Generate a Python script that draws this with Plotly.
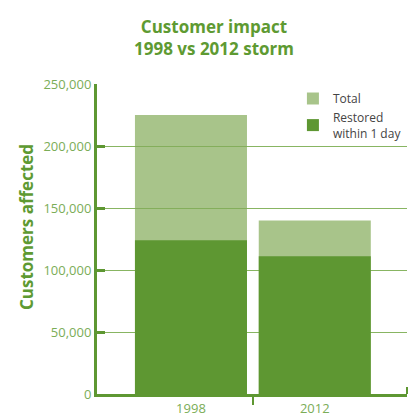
import plotly.graph_objects as go

years = ["1998", "2012"]
xpos = [0, 1]
total = [225000, 140000]
restored = [124000, 111000]
y_ticks = [0, 50000, 100000, 150000, 200000, 250000]
y_ticktext = ["0", "50,000", "100,000", "150,000", "200,000", "250,000"]

DARK = "#5E9732"
LIGHT_RGBA = "rgba(131,171,88,0.70)"
GRID = "#88B562"
LABEL = "#7BAD57"
FONT = "Open Sans"

fig = go.Figure()
fig.add_trace(go.Bar(
    x=xpos, y=total, name="Total", width=0.905,
    marker=dict(color=LIGHT_RGBA, line=dict(width=0)),
))
fig.add_trace(go.Bar(
    x=xpos, y=restored, name="Restored<br>within 1 day", width=0.905,
    marker=dict(color=DARK, line=dict(width=0)),
))

fig.update_layout(
    width=411, height=419,
    margin=dict(l=97, r=4, t=84, b=25, autoexpand=False),
    paper_bgcolor="white", plot_bgcolor="white",
    barmode="overlay",
    font=dict(family=FONT, color=LABEL, size=13),
    title=dict(
        text="<b>Customer impact<br>1998 vs 2012 storm</b>",
        x=214/411, xanchor="center", y=1 - 33/419, yanchor="middle",
        font=dict(family=FONT, size=17, color="#5E9A32"),
    ),
    showlegend=True,
    legend=dict(
        x=0.632, y=1.0, xanchor="left", yanchor="top",
        bgcolor="rgba(0,0,0,0)", font=dict(family=FONT, size=12, color="#444444"),
        traceorder="normal", itemwidth=30,
    ),
    xaxis=dict(
        range=[-0.759, 1.745],
        tickvals=xpos, ticktext=years, ticks="",
        showline=True, linecolor=DARK, linewidth=3,
        showgrid=False, zeroline=False,
        tickfont=dict(family=FONT, size=13, color=LABEL),
        minor=dict(tickvals=[0.5], ticks="outside", ticklen=8, tickwidth=2, tickcolor=DARK, showgrid=False),
    ),
    yaxis=dict(
        range=[0, 250000],
        tickvals=y_ticks, ticktext=y_ticktext,
        ticks="inside", ticklen=8, tickwidth=3, tickcolor=DARK,
        showline=True, linecolor=DARK, linewidth=3,
        showgrid=True, gridcolor=GRID, gridwidth=1,
        zeroline=False,
        tickfont=dict(family=FONT, size=13, color=LABEL),
    ),
    annotations=[dict(
        text="<b>Customers affected</b>", textangle=-90,
        xref="paper", yref="paper", x=-97/310 + 26/310, y=(394-227)/310,
        xanchor="center", yanchor="middle", showarrow=False,
        font=dict(family=FONT, size=17, color="#5E9A32"),
    )],
    shapes=[dict(
        type="line", xref="paper", yref="paper",
        x0=1, x1=1, y0=0, y1=7/310,
        line=dict(color=DARK, width=2),
    )],
)

fig.write_html("out.html")
